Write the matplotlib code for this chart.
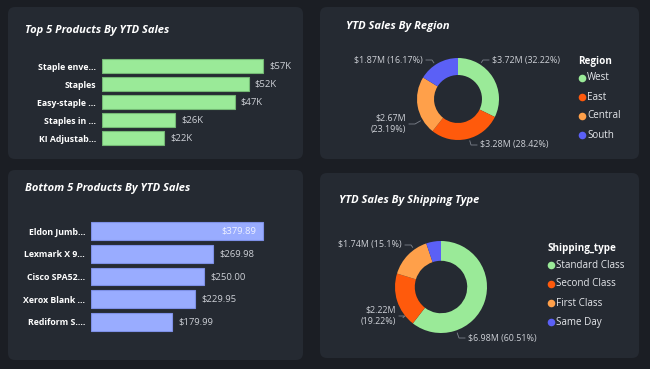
import numpy as np
import matplotlib
matplotlib.use("Agg")
import matplotlib.pyplot as plt
from matplotlib.patches import FancyBboxPatch

# ---------------- data ----------------
top_products = ["Staple enve...", "Staples", "Easy-staple ...", "Staples in ...", "KI Adjustab..."]
top_sales_k = [57, 52, 47, 26, 22]

bottom_products = ["Eldon Jumb...", "Lexmark X 9...", "Cisco SPA52...", "Xerox Blank ...", "Rediform S...."]
bottom_sales = [379.89, 269.98, 250.00, 229.95, 179.99]

regions = ["West", "East", "Central", "South"]
region_sales_m = [3.72, 3.28, 2.67, 1.87]
region_pct = [32.22, 28.42, 23.19, 16.17]

ship_types = ["Standard Class", "Second Class", "First Class", "Same Day"]
ship_sales_m = [6.98, 2.22, 1.74, 0.60]
ship_pct = ["60.51", "19.22", "15.1", "5.17"]

# ---------------- style ----------------
W, H = 650, 369
FIG_BG = "#1b1e24"
PANEL = "#252a32"
GREEN = "#9aea98"
BLUE_BAR = "#99acff"
DONUT_COLS = ["#9aea98", "#ff5a0c", "#ffa04a", "#5b60f6"]
TXT = "#ffffff"
LBL = "#cdd0d6"
FONT = "Open Sans"

plt.rcParams["font.family"] = [FONT, "DejaVu Sans"]

fig = plt.figure(figsize=(W / 100, H / 100), dpi=100, facecolor=FIG_BG)
bg = fig.add_axes([0, 0, 1, 1])
bg.set_xlim(0, W)
bg.set_ylim(H, 0)
bg.axis("off")
bg.set_zorder(-5)


def panel(x0, y0, x1, y1):
    bg.add_patch(FancyBboxPatch((x0, y0), x1 - x0, y1 - y0,
                                boxstyle="round,pad=0,rounding_size=7",
                                fc=PANEL, ec="none"))


panel(8, 7, 303, 159)
panel(320, 7, 639, 159)
panel(8, 170, 303, 360)
panel(320, 173, 639, 358)

title_kw = dict(color=TXT, fontsize=8, fontweight="bold", fontstyle="italic", va="center", ha="left")
bg.text(25, 30, "Top 5 Products By YTD Sales", **title_kw)
bg.text(346, 26, "YTD Sales By Region", **title_kw)
bg.text(25, 189, "Bottom 5 Products By YTD Sales", **title_kw)
bg.text(339, 200, "YTD Sales By Shipping Type", **title_kw)


def px_axes(x0, y0, x1, y1):
    return fig.add_axes([x0 / W, 1 - y1 / H, (x1 - x0) / W, (y1 - y0) / H])


def bar_panel(rect, names, vals, color, edge, fmt, inside_first, xmax_px_per):
    ax = px_axes(*rect)
    y = np.arange(len(names))
    ax.barh(y, vals, height=0.78, color=color, edgecolor=edge, linewidth=0.8)
    ax.set_ylim(len(names) - 0.5, -0.5)
    width_px = rect[2] - rect[0]
    ax.set_xlim(0, width_px / xmax_px_per)
    ax.set_yticks(y)
    ax.set_yticklabels(names, fontsize=6.3, fontweight="bold", color=TXT)
    ax.tick_params(axis="y", length=0, pad=4.3)
    ax.tick_params(axis="x", bottom=False, labelbottom=False)
    for s in ax.spines.values():
        s.set_visible(False)
    ax.patch.set_alpha(0)
    for i, v in enumerate(vals):
        if inside_first and i == 0:
            ax.annotate(fmt(v), (v, i), xytext=(-5, 0), textcoords="offset points",
                        ha="right", va="center", fontsize=6.8, color="#eef1ff")
        else:
            ax.annotate(fmt(v), (v, i), xytext=(4.3, 0), textcoords="offset points",
                        ha="left", va="center", fontsize=6.8, color=LBL)
    return ax


bar_panel((102, 57, 290, 147), top_products, top_sales_k, GREEN, "#74b874",
          lambda v: f"${v:.0f}K", False, 161 / 57)
bar_panel((91, 220, 290, 333), bottom_products, bottom_sales, BLUE_BAR, "#7e90e6",
          lambda v: f"${v:.2f}", True, 172 / 379.89)


def donut(cx, cy, R, inner, vals, cols, labels, legend_title, names, leg_x, leg_y0, leg_dy):
    ax = px_axes(cx - R, cy - R, cx + R, cy + R)
    ax.pie(vals, colors=cols, startangle=90, counterclock=False, radius=1,
           wedgeprops=dict(width=1 - inner, linewidth=0))
    ax.set_xlim(-1, 1)
    ax.set_ylim(-1, 1)
    ax.axis("off")
    for text, (lx, ly, ha) in labels:
        bg.text(lx, ly, text, fontsize=6.4, color=LBL, ha=ha, va="center",
                linespacing=1.35, multialignment="right" if ha == "right" else "left")
        sgn = 1 if ha == "right" else -1
        ax_x = lx + sgn * 3
        el_x = lx + sgn * 9
        ang = np.arctan2(-(ly - cy), el_x - cx)
        r = 1.06 * R
        px, py = cx + r * np.cos(ang), cy - r * np.sin(ang)
        bg.plot([px, el_x, ax_x], [py, ly, ly], color="#7d828c", lw=0.6)
    bg.text(leg_x - 4, leg_y0 - leg_dy * 0.85, legend_title, fontsize=7.1, fontweight="bold",
            color=TXT, ha="left", va="center")
    for i, (n, c) in enumerate(zip(names, cols)):
        yy = leg_y0 + i * leg_dy
        bg.scatter([leg_x], [yy], s=30, color=c, zorder=3, linewidths=0)
        bg.text(leg_x + 5, yy, n, fontsize=7.1, color="#e4e6ea", ha="left", va="center")


reg_lbl = [f"${v:.2f}M ({p:.2f}%)" for v, p in zip(region_sales_m, region_pct)]
reg_lbl[2] = f"${region_sales_m[2]:.2f}M\n({region_pct[2]:.2f}%)"
donut(458, 99, 41, 0.585, region_sales_m, DONUT_COLS,
      [(reg_lbl[0], (492, 60, "left")),
       (reg_lbl[1], (480, 145, "left")),
       (reg_lbl[2], (406, 124, "right")),
       (reg_lbl[3], (423, 60, "right"))],
      "Region", regions, 582, 78, 19)

ship_lbl = [f"${v:.2f}M ({p}%)" for v, p in zip(ship_sales_m, ship_pct)]
ship_lbl[1] = f"${ship_sales_m[1]:.2f}M\n({ship_pct[1]}%)"
donut(441, 287, 46, 0.57, ship_sales_m, DONUT_COLS,
      [(ship_lbl[0], (468, 338, "left")),
       (ship_lbl[1], (396, 316, "right")),
       (ship_lbl[2], (402, 245, "right"))],
      "Shipping_type", ship_types, 551, 265, 19)

fig.savefig("out.png", dpi=100, facecolor=FIG_BG)
